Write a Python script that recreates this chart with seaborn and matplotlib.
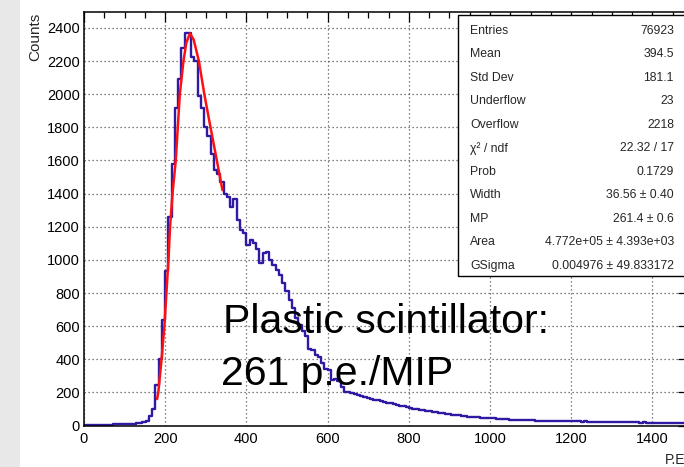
import numpy as np
import pandas as pd
import matplotlib
matplotlib.use("Agg")
import matplotlib.pyplot as plt
from matplotlib.patches import Rectangle
from matplotlib.ticker import MultipleLocator
import seaborn as sns

# ---------------- data ----------------
bin_width = 8
counts = [
    2, 3, 3, 4, 4, 5, 5, 6, 6, 7,
    7, 8, 9, 9, 10, 11, 13, 15, 20, 30,
    60, 100, 245, 400, 640, 930, 1260, 1580, 1915, 2090,
    2280, 2370, 2370, 2225, 2200, 1990, 1915, 1805, 1745, 1640,
    1540, 1520, 1470, 1400, 1381, 1320, 1370, 1240, 1180, 1160,
    1090, 1118, 1100, 1065, 980, 1040, 1050, 1000, 970, 940,
    910, 860, 810, 760, 710, 650, 610, 570, 540, 460,
    455, 426, 416, 376, 340, 336, 275, 280, 270, 235,
    205, 205, 195, 190, 182, 178, 170, 165, 160, 152,
    156, 146, 142, 136, 139, 128, 126, 121, 117, 110,
    104, 101, 99, 95, 93, 88, 87, 84, 80, 79,
    74, 71, 67, 66, 63, 61, 58, 57, 54, 53,
    51, 50, 47, 48, 45, 44, 43, 41, 40, 38,
    37, 36, 36, 34, 33, 34, 32, 31, 32, 30,
    30, 29, 30, 28, 29, 27, 28, 27, 26, 27,
    27, 25, 26, 24, 25, 24, 23, 24, 22, 23,
    22, 21, 22, 21, 20, 21, 20, 19, 20, 19,
    19, 18, 19, 18, 18, 17, 17, 16, 16, 17,
    15, 15, 14, 15, 14, 14, 13, 14, 13, 13,
]
fit_x = [180, 183, 191, 198, 203, 208, 212, 218, 226, 231, 236, 245, 252,
         261, 270, 283, 296, 310, 327, 341]
fit_y = [160, 200, 400, 600, 800, 1000, 1200, 1400, 1600, 1800, 2000, 2200,
         2310, 2367, 2330, 2200, 2005, 1820, 1603, 1421]

stats_labels = ["Entries", "Mean", "Std Dev", "Underflow", "Overflow",
                "χ² / ndf", "Prob", "Width", "MP", "Area", "GSigma"]
stats_values = ["76923", "394.5", "181.1", "23", "2218", "22.32 / 17",
                "0.1729", "36.56 ± 0.40", "261.4 ± 0.6",
                "4.772e+05 ± 4.393e+03", "0.004976 ± 49.833172"]

annotation_lines = ["Plastic scintillator:", "261 p.e./MIP"]
x_title = "P.E."
y_title = "Counts"

# ---------------- figure ----------------
sns.set_style("white")
plt.rcParams["font.family"] = ["Liberation Sans", "DejaVu Sans"]

W, H = 684, 467
fig = plt.figure(figsize=(W / 100, H / 100), dpi=100)

def fx(px):
    return px / W

def fy(py):
    return 1 - py / H

# grey strip on the left
fig.add_artist(Rectangle((0, 0), fx(20), 1, transform=fig.transFigure,
                         facecolor="#e8e8e8", edgecolor="none", zorder=0))

x0, y0 = 84, 425.6
pxu_x = 0.406
pxu_y = 0.1657
xmax, ymax = 1500, 2495
ax = fig.add_axes([fx(x0), 1 - y0 / H, xmax * pxu_x / W, ymax * pxu_y / H])

nb = len(counts)
centers = [bin_width * i + bin_width / 2 for i in range(nb)]
df = pd.DataFrame({"x": centers, "w": counts})
sns.histplot(data=df, x="x", weights="w", binwidth=bin_width,
             binrange=(0, bin_width * nb), element="step",
             fill=False, color="#2e1aa3", linewidth=1.7, ax=ax)
fit_df = pd.DataFrame({"x": fit_x, "y": fit_y})
sns.lineplot(data=fit_df, x="x", y="y", color="#ff1010", linewidth=1.8,
             ax=ax, zorder=5)

ax.set_xlim(0, xmax)
ax.set_ylim(0, ymax)
ax.set_xlabel("")
ax.set_ylabel("")
ax.set_xticks([0, 200, 400, 600, 800, 1000, 1200, 1400])
ax.xaxis.set_minor_locator(MultipleLocator(50))
ax.yaxis.set_major_locator(MultipleLocator(200))
ax.yaxis.set_minor_locator(MultipleLocator(50))
ax.tick_params(axis="both", which="both", direction="in", top=True,
               right=True, colors="black", labelsize=10.5, width=0.9)
ax.tick_params(axis="y", which="major", length=11, pad=3)
ax.tick_params(axis="y", which="minor", length=5.8)
ax.tick_params(axis="x", which="major", length=7.5, pad=4.5)
ax.tick_params(axis="x", which="minor", length=4.2)
for s in ax.spines.values():
    s.set_visible(True)
    s.set_color("black")
    s.set_linewidth(1.1)
ax.grid(True, which="major", linestyle=(0, (1, 2.2)), color="#555555",
        linewidth=0.9)
ax.set_axisbelow(True)

# titles
fig.text(fx(35), fy(13), y_title, rotation=90, ha="center", va="top",
         fontsize=11)
fig.text(fx(665), fy(460), x_title, ha="left", va="center", fontsize=10)

# annotation
fig.text(fx(223), fy(333), annotation_lines[0], ha="left", va="baseline",
         fontsize=29.5, color="black")
fig.text(fx(221), fy(385), annotation_lines[1], ha="left", va="baseline",
         fontsize=29.5, color="black")

# stats box
bx0, by0, bx1, by1 = 458, 15, 710, 276
fig.add_artist(Rectangle((fx(bx0), fy(by1)), fx(bx1 - bx0), (by1 - by0) / H,
                         transform=fig.transFigure, facecolor="white",
                         edgecolor="black", linewidth=1.0, zorder=10))
for k, (lab, val) in enumerate(zip(stats_labels, stats_values)):
    yy = 30.7 + 23.5 * k
    fig.text(fx(470), fy(yy), lab, ha="left", va="center", fontsize=8.8,
             zorder=11)
    fig.text(fx(674), fy(yy), val, ha="right", va="center", fontsize=8.8,
             zorder=11)

fig.savefig("out.png", dpi=100)
